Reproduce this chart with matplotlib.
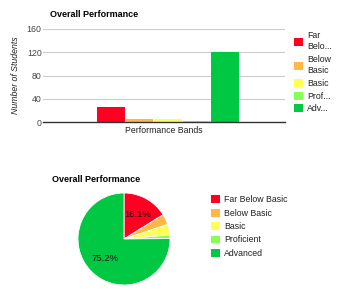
import matplotlib

matplotlib.use("Agg")

import matplotlib.pyplot as plt
from matplotlib.patches import Patch

plt.rcParams["font.family"] = ["Liberation Sans", "DejaVu Sans"]

# performance bands and student counts
bands = ["Far Below Basic", "Below Basic", "Basic", "Proficient", "Advanced"]
bar_labels = ["Far\nBelo...", "Below\nBasic", "Basic", "Prof...", "Adv..."]
students = [26, 6, 6, 2, 121]
colors = ["#ff0022", "#ffb745", "#ffff55", "#88ff55", "#00c842"]
yticks = [0, 40, 80, 120, 160]

W, H = 337, 296


def px_axes(fig, left, top, width, height):
    # convert pixel box (from top-left) into figure fractions
    return fig.add_axes([left / W, (H - top - height) / H, width / W, height / H])


fig = plt.figure(figsize=(W / 100, H / 100), dpi=100)
fig.patch.set_facecolor("white")

# ---- bar chart ----
ax = px_axes(fig, 43, 29, 242, 93)
for i, (v, c) in enumerate(zip(students, colors)):
    ax.bar(i, v, width=0.97, color=c, zorder=3)
ax.set_xlim(-2.39, 6.1)
ax.set_ylim(0, 160)
ax.set_yticks(yticks)
ax.set_xticks([])
ax.grid(axis="y", color="#cccccc", linewidth=0.8, zorder=0)
for s in ["top", "right", "left"]:
    ax.spines[s].set_visible(False)
ax.spines["bottom"].set_color("#333333")
ax.spines["bottom"].set_linewidth(1.0)
ax.spines["bottom"].set_zorder(4)
ax.tick_params(axis="y", length=0, labelsize=6.3, labelcolor="#444444", pad=1)
ax.set_xlabel("Performance Bands", fontsize=6.3, color="#222222", labelpad=3)
ax.set_ylabel("Number of Students", fontsize=6.3, color="#222222",
              style="italic", labelpad=5)
fig.text(50 / W, 1 - 17 / H, "Overall Performance", fontsize=6.5,
         fontweight="bold", color="#000000")

handles = [Patch(facecolor=c, edgecolor="none") for c in colors]
leg = fig.legend(handles, bar_labels, loc="upper left",
                 bbox_to_anchor=(290 / W, 1 - 27 / H), frameon=False,
                 fontsize=6.3, handlelength=1.0, handleheight=1.0,
                 handletextpad=0.45, labelspacing=0.42, borderpad=0,
                 labelcolor="#222222")
for t in leg.get_texts():
    t.set_linespacing(1.3)

# ---- pie chart ----
pax = px_axes(fig, 78, 193, 92, 92)


def pct(p):
    return f"{p:.1f}%" if p > 10 else ""


pax.pie(students, colors=colors, startangle=90, counterclock=False,
        autopct=pct, pctdistance=0.6,
        wedgeprops={"edgecolor": "white", "linewidth": 0.6},
        textprops={"fontsize": 6.8, "color": "#111111"})
pax.set_xlim(-1, 1)
pax.set_ylim(-1, 1)
pax.set_aspect("equal")
fig.text(52 / W, 1 - 182 / H, "Overall Performance", fontsize=6.5,
         fontweight="bold", color="#000000")

fig.legend(handles, bands, loc="upper left",
           bbox_to_anchor=(207 / W, 1 - 191 / H), frameon=False,
           fontsize=6.3, handlelength=1.0, handleheight=1.0,
           handletextpad=0.45, labelspacing=0.5, borderpad=0,
           labelcolor="#222222")

fig.savefig("out.png", dpi=100)
